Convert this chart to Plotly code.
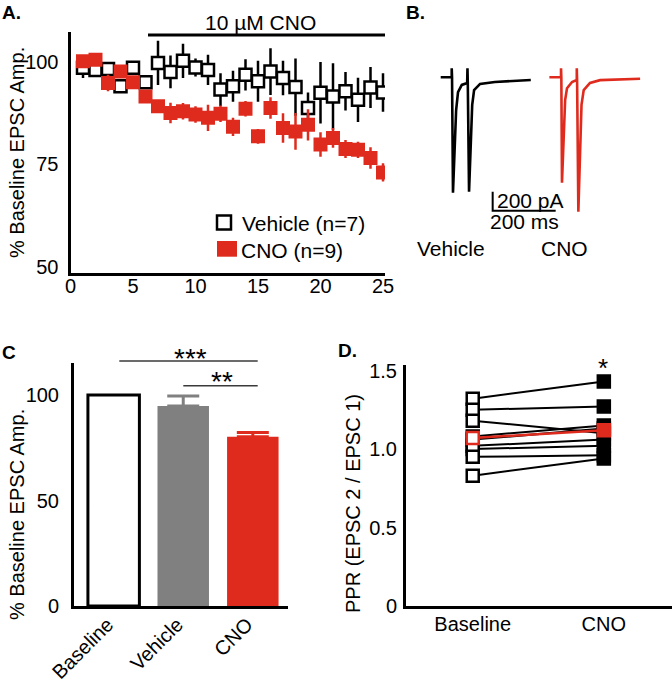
import plotly.graph_objects as go

W, H = 672, 683
RED = "#df2b1e"
GRAY = "#808080"
FONT = "Liberation Sans, Arial, sans-serif"


def fx(x):
    return x / W


def fy(y):
    return 1 - y / H


# ---------------- Panel A data ----------------
minutes = list(range(1, 26))
veh_mean = [98.5, 98.0, 98.2, 94.0, 98.5, 95.0, 99.7, 97.5, 100.2, 98.6, 98.0, 93.2, 94.0,
            96.8, 95.2, 97.6, 96.0, 93.8, 88.7, 92.4, 91.5, 92.8, 90.7, 93.7, 92.5]
veh_sem = [2.5, 0.8, 1.0, 0.8, 1.0, 1.0, 5.4, 4.0, 4.2, 2.2, 3.7, 4.0, 3.8,
           3.8, 5.0, 5.7, 4.2, 7.0, 3.8, 7.5, 8.1, 4.7, 5.4, 5.0, 4.7]
cno_mean = [100.1, 100.5, 94.8, 97.6, 95.0, 91.5, 89.1, 87.5, 87.9, 87.1, 86.3, 87.3, 84.1,
            88.5, 81.8, 88.7, 83.8, 83.0, 84.6, 79.8, 81.4, 78.7, 78.5, 76.5, 73.0]
cno_sem = [0.5, 0.5, 2.0, 1.0, 1.0, 1.5, 1.5, 2.5, 2.0, 2.0, 3.2, 2.0, 2.2,
           1.9, 1.8, 2.6, 3.6, 4.5, 3.8, 3.0, 2.4, 2.2, 2.0, 2.6, 2.2]
a_xticks = [0, 5, 10, 15, 20, 25]
a_yticks = [50, 75, 100]

# ---------------- Panel B data (ms, pA) ----------------
veh_t = [0, 35, 35, 36, 39, 44, 49, 55, 67, 84, 85, 86, 90, 95, 100, 106, 125, 172, 220, 286]
veh_i = [0, 0, 95, 0, -1215, -765, -345, -155, -80, -60, 95, -60, -1205, -660, -290, -135,
         -70, -50, -40, -28]
cnotr_t = [0, 37, 37, 38, 40, 45, 50, 56, 72, 87, 87, 88, 92, 97, 102, 109, 129, 161, 288]
cnotr_i = [0, 0, 95, 0, -1110, -555, -240, -115, -50, -28, 95, -28, -1415, -765, -290, -135,
           -60, -30, -15]
SCALE_PA = 200
SCALE_MS = 200

# ---------------- Panel C data ----------------
groups = ["Baseline", "Vehicle", "CNO"]
amp_mean = [100.0, 94.8, 80.2]
amp_sem = [0.0, 4.7, 2.1]

# ---------------- Panel D data ----------------
ppr_conds = ["Baseline", "CNO"]
ppr_base = [1.32, 1.25, 1.18, 1.08, 1.06, 1.02, 1.00, 0.95, 0.83]
ppr_cno = [1.43, 1.27, 1.10, 1.15, 1.13, 1.06, 1.02, 0.96, 0.94]
ppr_mean = [1.07, 1.12]
ppr_sem = [0.03, 0.04]

fig = go.Figure()

# ---- Panel A traces ----
fig.add_trace(go.Scatter(
    x=minutes, y=veh_mean, mode="markers", xaxis="x", yaxis="y",
    marker=dict(symbol="square", size=12, color="white", line=dict(color="black", width=2.5)),
    error_y=dict(type="data", array=veh_sem, color="black", thickness=2.5, width=0),
    showlegend=False))
fig.add_trace(go.Scatter(
    x=minutes, y=cno_mean, mode="markers", xaxis="x", yaxis="y",
    marker=dict(symbol="square", size=14, color=RED, line=dict(width=0)),
    error_y=dict(type="data", array=cno_sem, color=RED, thickness=2.5, width=0),
    showlegend=False))

# ---- Panel B traces ----
CNO_OFFSET_MS = 345
fig.add_trace(go.Scatter(x=veh_t, y=veh_i, mode="lines", xaxis="x2", yaxis="y2",
                         line=dict(color="black", width=2.6), showlegend=False))
fig.add_trace(go.Scatter(x=[t + CNO_OFFSET_MS for t in cnotr_t], y=cnotr_i, mode="lines",
                         xaxis="x2", yaxis="y2",
                         line=dict(color=RED, width=2.6), showlegend=False))
SB_X0, SB_Y0 = 165, -1404
fig.add_trace(go.Scatter(x=[SB_X0, SB_X0, SB_X0 + SCALE_MS],
                         y=[SB_Y0 + SCALE_PA, SB_Y0, SB_Y0], mode="lines",
                         xaxis="x2", yaxis="y2",
                         line=dict(color="black", width=2), showlegend=False))

# ---- Panel C traces ----
bar_fill = ["white", GRAY, RED]
bar_line = ["black", GRAY, RED]
bar_lw = [3, 0, 0]
for i, g in enumerate(groups):
    fig.add_trace(go.Bar(
        x=[g], y=[amp_mean[i]], xaxis="x3", yaxis="y3", width=0.74,
        marker=dict(color=bar_fill[i], line=dict(color=bar_line[i], width=bar_lw[i])),
        error_y=dict(type="data", array=[amp_sem[i]], arrayminus=[0], symmetric=False,
                     color=bar_line[i], thickness=3, width=16,
                     visible=amp_sem[i] > 0),
        showlegend=False))

# ---- Panel D traces ----
for b, c in zip(ppr_base, ppr_cno):
    fig.add_trace(go.Scatter(
        x=ppr_conds, y=[b, c], mode="lines+markers", xaxis="x4", yaxis="y4",
        line=dict(color="black", width=2),
        marker=dict(symbol="square", size=12, color=["white", "black"],
                    line=dict(color="black", width=2.5)),
        showlegend=False))
fig.add_trace(go.Scatter(
    x=ppr_conds, y=ppr_mean, mode="lines+markers", xaxis="x4", yaxis="y4",
    line=dict(color=RED, width=2.5),
    marker=dict(symbol="square", size=12, color=["white", RED],
                line=dict(color=RED, width=2.5)),
    error_y=dict(type="data", array=ppr_sem, color=RED, thickness=2, width=0),
    showlegend=False))

axis_common = dict(showline=True, linecolor="black", linewidth=3, ticks="", ticklen=0,
                   showgrid=False, zeroline=False, automargin=False,
                   tickfont=dict(size=20, color="black"))

B_MS_PER_PX = SCALE_MS / 63
B_PA_PER_PX = SCALE_PA / 19

fig.update_layout(
    template="none",
    width=W, height=H, margin=dict(l=0, r=0, t=0, b=0, pad=0),
    paper_bgcolor="white", plot_bgcolor="rgba(0,0,0,0)",
    font=dict(family=FONT, size=20, color="black"),
    barmode="overlay",
    xaxis=dict(domain=[fx(70.5), fx(385)], range=[0, 25.16], tickvals=a_xticks,
               anchor="y", ticklabelstandoff=-7, **axis_common),
    yaxis=dict(domain=[fy(273), fy(32)], range=[48.46, 107.24], tickvals=a_yticks,
               anchor="x", ticklabelstandoff=5, **axis_common),
    xaxis2=dict(domain=[fx(420), fx(660)],
                range=[(420 - 440.7) * B_MS_PER_PX, (660 - 440.7) * B_MS_PER_PX],
                visible=False, anchor="y2", automargin=False),
    yaxis2=dict(domain=[fy(230), fy(60)],
                range=[-(230 - 77.3) * B_PA_PER_PX, -(60 - 77.3) * B_PA_PER_PX],
                visible=False, anchor="x2", automargin=False),
    xaxis3=dict(domain=[fx(74), fx(288.3)], range=[-0.57, 2.51], type="category",
                categoryarray=groups, tickangle=-45, anchor="y3",
                ticklabelstandoff=-4, ticklabelshift=-6, **axis_common),
    yaxis3=dict(domain=[fy(606), fy(363)], range=[0, 115.2], tickvals=[0, 50, 100],
                anchor="x3", ticklabelstandoff=8, **axis_common),
    xaxis4=dict(domain=[fx(406), fx(672)], range=[-0.509, 1.52], type="category",
                categoryarray=ppr_conds, anchor="y4", ticklabelstandoff=-2, **axis_common),
    yaxis4=dict(domain=[fy(606), fy(365)], range=[0, 1.535], tickvals=[0, 0.5, 1.0, 1.5],
                ticktext=["0", "0.5", "1.0", "1.5"], anchor="x4", ticklabelstandoff=2,
                **axis_common),
)

ann = []


def text(x, y, s, size=21, xanchor="center", yanchor="middle", bold=False, angle=0):
    ann.append(dict(x=fx(x), y=fy(y), xref="paper", yref="paper",
                    text=f"<b>{s}</b>" if bold else s,
                    showarrow=False, xanchor=xanchor, yanchor=yanchor, textangle=angle,
                    borderpad=0,
                    font=dict(size=size, family=FONT, color="black")))


# panel labels
text(1, 12, "A.", size=19, xanchor="left", bold=True)
text(405, 12, "B.", size=19, xanchor="left", bold=True)
text(1, 352, "C", size=19, xanchor="left", bold=True)
text(337, 350, "D.", size=19, xanchor="left", bold=True)
# axis titles
text(17, 153, "% Baseline EPSC Amp.", size=20, angle=-90)
text(17, 515, "% Baseline EPSC Amp.", size=20, angle=-90)
text(353, 504, "PPR (EPSC 2 / EPSC 1)", size=20, angle=-90)
# panel A extras
text(260, 23, "10 µM CNO")
text(241, 223, "Vehicle (n=7)", xanchor="left")
text(240, 250, "CNO (n=9)", xanchor="left")
# panel B labels
text(496, 200, f"{SCALE_PA} pA", xanchor="left")
text(524, 222, f"{SCALE_MS} ms")
text(451, 248, "Vehicle")
text(564, 248, "CNO")
# significance
text(190, 358, "***", size=28)
text(221.7, 381.6, "**", size=28)
text(603, 368, "*", size=26)

shapes = [
    dict(type="line", xref="paper", yref="paper", x0=fx(148), x1=fx(385), y0=fy(35), y1=fy(35),
         line=dict(color="black", width=3)),
    dict(type="rect", xref="paper", yref="paper", x0=fx(217), x1=fx(231), y0=fy(229.5), y1=fy(215.5),
         line=dict(color="black", width=2.5), fillcolor="white"),
    dict(type="rect", xref="paper", yref="paper", x0=fx(217), x1=fx(237), y0=fy(256.7), y1=fy(241),
         line=dict(width=0), fillcolor=RED),
    dict(type="line", xref="paper", yref="paper", x0=fx(119.3), x1=fx(257.7), y0=fy(361), y1=fy(361),
         line=dict(color="#3a3a3a", width=1.5)),
    dict(type="line", xref="paper", yref="paper", x0=fx(183.3), x1=fx(257.7), y0=fy(385.7), y1=fy(385.7),
         line=dict(color="#3a3a3a", width=1.5)),
]
fig.update_layout(annotations=ann, shapes=shapes)

fig.write_html("out.html", config={"displayModeBar": False},
               post_script="document.body.style.margin='0';")
